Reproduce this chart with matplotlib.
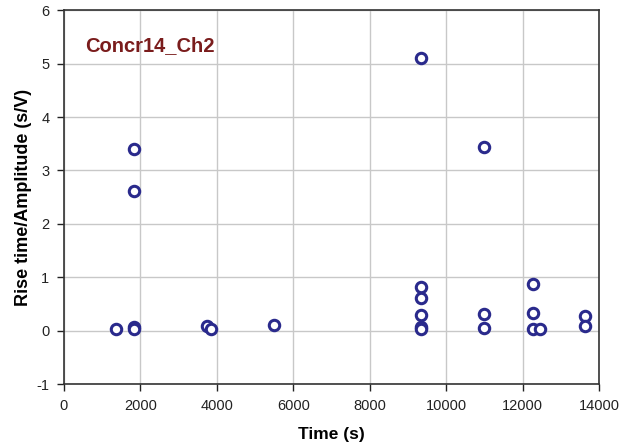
import matplotlib
matplotlib.use("Agg")
import matplotlib.pyplot as plt

# Rise time / amplitude events
time_s = [1353, 1832, 1832, 1832, 1832, 3735, 3848, 5490,
          9346, 9346, 9346, 9346, 9346, 9346,
          10977, 10977, 10977,
          12259, 12259, 12259, 12461,
          13631, 13631]
rise_amp = [0.04, 3.40, 2.62, 0.07, 0.03, 0.08, 0.03, 0.11,
            5.10, 0.82, 0.62, 0.30, 0.06, 0.03,
            3.44, 0.32, 0.05,
            0.88, 0.33, 0.03, 0.03,
            0.28, 0.08]

x_ticks = [0, 2000, 4000, 6000, 8000, 10000, 12000, 14000]
y_ticks = [-1, 0, 1, 2, 3, 4, 5, 6]

plt.rcParams["font.family"] = ["Liberation Sans", "DejaVu Sans"]
plt.rcParams["axes.unicode_minus"] = False

fig = plt.figure(figsize=(6.21, 4.44), dpi=100)
ax = fig.add_axes([0.103, 0.135, 0.862, 0.842])

ax.plot(time_s, rise_amp, linestyle="none", marker="o", markersize=7.5,
        markerfacecolor="white", markeredgecolor="#2a2a8c", markeredgewidth=2.2,
        zorder=3)

ax.set_xlim(0, 14000)
ax.set_ylim(-1, 6)
ax.set_xticks(x_ticks)
ax.set_yticks(y_ticks)
ax.grid(True, color="#c8c8c8", linewidth=1.0)
ax.set_axisbelow(True)

for s in ax.spines.values():
    s.set_color("#333333")
    s.set_linewidth(1.2)
ax.tick_params(direction="out", length=5, width=1.0, labelsize=10.5,
               colors="#222222", pad=5.5)

ax.set_xlabel("Time (s)", fontsize=12.5, fontweight="bold", labelpad=10.5)
ax.set_ylabel("Rise time/Amplitude (s/V)", fontsize=13, fontweight="bold",
              labelpad=3)

ax.text(0.04, 0.905, "Concr14_Ch2", transform=ax.transAxes, fontsize=14.5,
        fontweight="bold", color="#7a1c1c", va="center", ha="left")

fig.savefig("out.png", dpi=100)
